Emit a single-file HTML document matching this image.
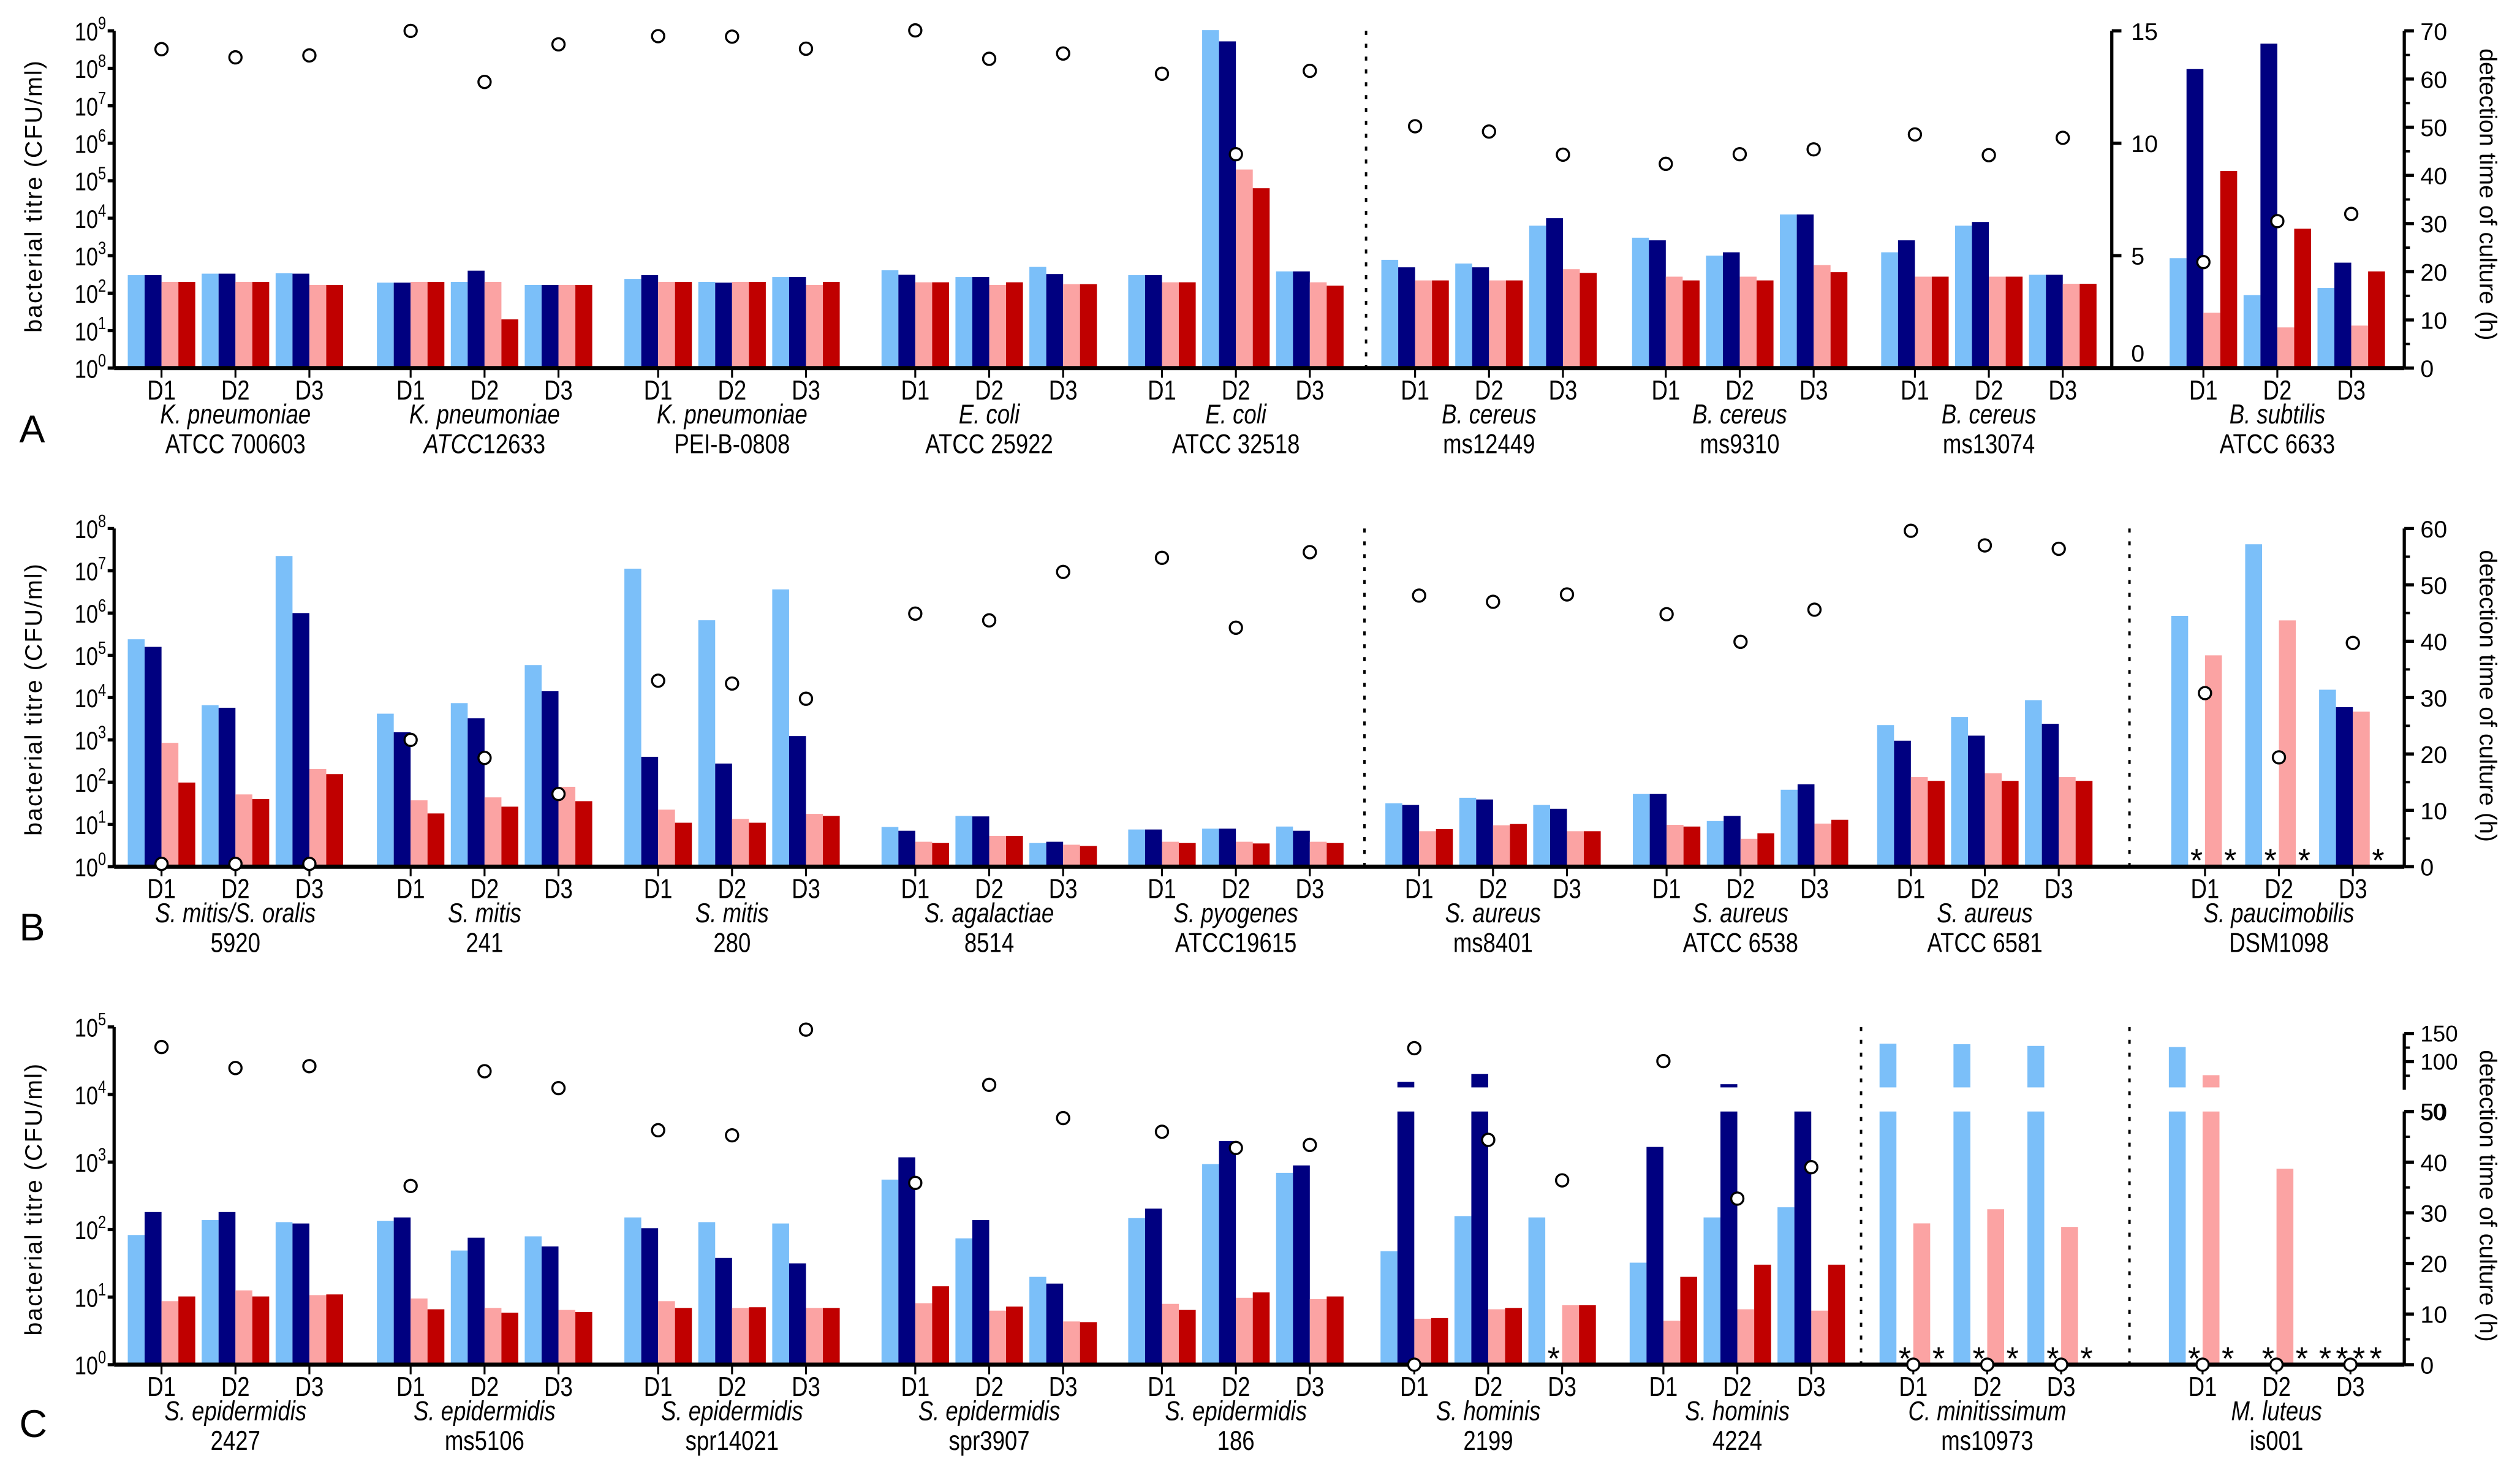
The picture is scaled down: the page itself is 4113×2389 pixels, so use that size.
<!DOCTYPE html>
<html><head><meta charset="utf-8"><title>Bacterial titre and detection time</title>
<style>
html,body{margin:0;padding:0;background:#fff;}
svg{display:block;}
text{font-family:"Liberation Sans",Arial,sans-serif;fill:#000;}
</style></head>
<body>
<svg id="chart" xmlns="http://www.w3.org/2000/svg" width="4113" height="2389" viewBox="0 0 1568 910.8" preserveAspectRatio="none"></svg>
<script>
// ---------- DATA (log10 CFU/ml for titres, hours for detection time) ----------
// Panel A
const A_species = ["K. pneumoniae","K. pneumoniae","K. pneumoniae","E. coli","E. coli","B. cereus","B. cereus","B. cereus"];
const A_strain = ["ATCC 700603","ATCC12633","PEI-B-0808","ATCC 25922","ATCC 32518","ms12449","ms9310","ms13074"];
const A_lb = [2.48,2.52,2.53, 2.28,2.3,2.22, 2.38,2.3,2.43, 2.61,2.43,2.7, 2.48,9.02,2.58, 2.89,2.79,3.8, 3.48,3.0,4.1, 3.09,3.8,2.49];
const A_nv = [2.48,2.52,2.52, 2.28,2.6,2.22, 2.48,2.28,2.43, 2.49,2.43,2.51, 2.48,8.72,2.58, 2.69,2.69,4.0, 3.41,3.09,4.1, 3.41,3.9,2.49];
const A_pk = [2.3,2.3,2.22, 2.3,2.3,2.22, 2.3,2.3,2.22, 2.29,2.22,2.24, 2.29,5.3,2.29, 2.34,2.34,2.64, 2.44,2.44,2.75, 2.44,2.44,2.25];
const A_rd = [2.3,2.3,2.22, 2.3,1.3,2.22, 2.3,2.3,2.3, 2.29,2.29,2.24, 2.29,4.8,2.2, 2.34,2.34,2.54, 2.34,2.34,2.56, 2.44,2.44,2.25];
const A_time = [66.2,64.5,64.9, 70,59.4,67.2, 68.9,68.8,66.3, 70.1,64.2,65.3, 61.1,44.4,61.7, 50.2,49.1,44.3, 42.4,44.4,45.4, 48.5,44.2,47.8];
// B. subtilis (linear 0-15 scale)
const S_lb = [4.89,3.25,3.56];
const S_nv = [13.3,14.43,4.69];
const S_pk = [2.46,1.81,1.89];
const S_rd = [8.77,6.2,4.3];
const S_time = [22,30.5,32];
const A_ticksLeft = ["0","1","2","3","4","5","6","7","8","9"];
const A_ticksRight = [0,10,20,30,40,50,60,70];
const A_ticksInner = [0,5,10,15];

// Panel B
const B_species = ["S. mitis/S. oralis","S. mitis","S. mitis","S. agalactiae","S. pyogenes","S. aureus","S. aureus","S. aureus"];
const B_strain = ["5920","241","280","8514","ATCC19615","ms8401","ATCC 6538","ATCC 6581"];
const B_lb = [5.38,3.82,7.35, 3.62,3.87,4.77, 7.05,5.83,6.56, .94,1.2,.56, .88,.9,.95, 1.5,1.63,1.46, 1.72,1.08,1.82, 3.35,3.54,3.94];
const B_nv = [5.2,3.76,6.0, 3.18,3.51,4.15, 2.6,2.44,3.09, .85,1.19,.59, .88,.9,.85, 1.46,1.59,1.37, 1.72,1.2,1.95, 2.98,3.1,3.38];
const B_pk = [2.93,1.71,2.31, 1.57,1.64,1.89, 1.35,1.13,1.25, .59,.73,.52, .59,.59,.59, .84,.98,.84, .99,.66,1.02, 2.12,2.21,2.12];
const B_rd = [1.99,1.6,2.19, 1.26,1.42,1.55, 1.04,1.04,1.2, .56,.73,.49, .56,.55,.56, .89,1.01,.84, .95,.79,1.11, 2.03,2.03,2.03];
const B_time = [0.5,0.5,0.5, 22.5,19.3,12.9, 33,32.5,29.8, 44.9,43.7,52.3, 54.8,42.4,55.8, 48.1,47,48.3, 44.8,39.9,45.6, 59.6,57,56.4];
// S. paucimobilis (hours scale), null = negative (*)
const P_lb = [44.5,57.2,31.4];
const P_nv = [null,null,28.3];
const P_pk = [37.5,43.7,27.5];
const P_rd = [null,null,null];
const P_time = [30.8,19.4,39.7];
const B_ticksLeft = ["0","1","2","3","4","5","6","7","8"];
const B_ticksRight = [0,10,20,30,40,50,60];

// Panel C
const C_species = ["S. epidermidis","S. epidermidis","S. epidermidis","S. epidermidis","S. epidermidis","S. hominis","S. hominis"];
const C_strain = ["2427","ms5106","spr14021","spr3907","186","2199","4224"];
const C_lb = [1.92,2.14,2.11, 2.13,1.69,1.9, 2.18,2.11,2.09, 2.74,1.87,1.3, 2.17,2.97,2.84, 1.68,2.2,2.18, 1.51,2.18,2.33];
const C_nv = [2.26,2.26,2.09, 2.18,1.88,1.75, 2.02,1.58,1.5, 3.07,2.14,1.2, 2.31,3.31,2.95];
const H_nv = [64,78,null, 43,60,52];   // S. hominis dark bars, hours (broken axis)
const C_pk = [.94,1.1,1.03, .98,.84,.81, .94,.84,.84, .91,.8,.64, .9,.99,.97, .68,.82,.88, .65,.82,.8];
const C_rd = [1.01,1.01,1.04, .82,.77,.78, .84,.85,.84, 1.16,.86,.63, .81,1.07,1.01, .69,.84,.88, 1.3,1.48,1.48];
const C_time = [126,88.7,92, 35.3,83,53, 46.3,45.3,157, 35.9,58.8,48.7, 46,42.8,43.4, 124,44.4,36.4, 101,32.8,39];
const C_time2 = [null,null,null, null,null,null, null,null,null, null,null,null, null,null,null, 0,null,null, null,null,null];
// C. minitissimum / M. luteus (hours, broken axis); null = *, 0 = nothing
const M_lb = [132,131,128];
const M_nv = [null,null,null];
const M_pk = [27.9,30.7,27.2];
const M_rd = [null,null,null];
const M_time = [0,0,0];
const L_lb = [126,0,null];
const L_nv = [null,null,null];
const L_pk = [76,38.7,null];
const L_rd = [null,null,null];
const L_time = [0,0,0];
const C_ticksLeft = ["0","1","2","3","4","5"];
const C_ticksLow = [0,10,20,30,40,50];
const C_ticksUp = [50,100,150];

// ---------- LAYOUT ----------
const NS = "http://www.w3.org/2000/svg";
const svg = document.getElementById("chart");
const COLORS = ["#7bbff9","#000080","#fba3a3","#c00000"];
const SERIES = ["light-blue","navy","pink","red"];
const groupX = [100.5,255.5,409.5,569.5,723,880.5,1036.5,1191.5];
const DAY = 46, BW = 10.5, XL = 71, XR = 1496, SQ = 0.82;
function el(tag, a, p){const e=document.createElementNS(NS,tag);for(const k in a)e.setAttribute(k,a[k]);(p||svg).appendChild(e);return e;}
function tx(s, a, p){const e=el("text",a,p);e.textContent=s;return e;}
function sq(x,y){ return "translate("+x+","+y+") scale("+SQ+",1)"; }

function line(x1,y1,x2,y2,w,name,dash){
  const e=el("line",{x1:x1,y1:y1,x2:x2,y2:y2,stroke:"#000","stroke-width":w});
  if(dash) e.setAttribute("stroke-dasharray",dash);
  
  
  return e;
}
function bar(x,yTop,yBot,i,name){
  const e=el("rect",{x:x,y:yTop,width:BW,height:Math.max(0,yBot-yTop),fill:COLORS[i]});
  
  
  return e;
}
function star(x,y){
  const e=tx("*",{x:x,y:y+6,"font-size":20,"text-anchor":"middle"});
  
  
}
function circ(x,y){
  const e=el("circle",{cx:x,cy:y,r:3.8,fill:"#fff",stroke:"#000","stroke-width":1.3});
  
  
}
function dayTicks(tx0, base){
  for(let d=0; d<3; d++){
    const x=tx0+d*DAY;
    line(x,base,x,base+6,1.2,"x-tick");
    const t=tx("D"+(d+1),{x:0,y:0,"font-size":17,"text-anchor":"middle",transform:sq(x,base+19.5)});
    
    
  }
}
function groupLabel(cx, base, sp, st, italicPrefix){
  const a=tx(sp,{x:0,y:0,"font-size":17,"font-style":"italic","text-anchor":"middle",transform:sq(cx,base+34.5)});
  
  
  const b=el("text",{x:0,y:0,"font-size":17,"text-anchor":"middle",transform:sq(cx,base+53)});
  if(italicPrefix){
    const s1=el("tspan",{"font-style":"italic"},b); s1.textContent=italicPrefix;
    const s2=el("tspan",{},b); s2.textContent=st.slice(italicPrefix.length);
  } else b.textContent=st;
  
  
}
function leftAxis(top, base, ticks, dec){
  line(XL,top,XL,base,2,"y-axis-left");
  ticks.forEach((t,k)=>{
    const y=base-k*dec;
    line(XL-4,y,XL,y,2,"y-tick-left");
    const e=el("text",{x:0,y:0,"font-size":16,"text-anchor":"end",transform:sq(XL-5,y+6)});
    const a=el("tspan",{},e); a.textContent="10";
    const b=el("tspan",{dy:-7,"font-size":11},e); b.textContent=t;
    
    
  });
}
function leftTitle(cy){
  const e=tx("bacterial titre (CFU/ml)",{x:0,y:0,"font-size":15,"letter-spacing":0.8,"text-anchor":"middle",transform:"translate(26,"+cy+") rotate(-90)"});
  
  
}
function rightTitle(cy){
  const e=tx("detection time of culture (h)",{x:0,y:0,"font-size":15,"text-anchor":"middle",transform:"translate(1543,"+cy+") rotate(90)"});
  
  
}
function rightAxis(base, top, ticks, yFn, minor){
  line(XR,top,XR,base,2,"y-axis-right");
  ticks.forEach(v=>{
    const y=yFn(v);
    line(XR,y,XR+6,y,2,"y-tick-right");
    const e=tx(String(v),{x:XR+10,y:y+5.5,"font-size":15});
    
    
  });
  minor.forEach(v=>{ line(XR,yFn(v),XR+3.5,yFn(v),1.5,"y-minor-tick-right"); });
}
function panelLetter(s,y){
  const e=tx(s,{x:12,y:y,"font-size":24});
  
  
}
function drawGroupBars(tick, vals, yFn, base){
  for(let i=0;i<4;i++){
    const v=vals[i], x=tick-21+i*BW;
    if(v===null){ star(x+BW/2, base-3); continue; }
    if(v===0) continue;
    bar(x, yFn(v), base, i, "bar-"+SERIES[i]);
  }
}

// ================= PANEL A =================
(function(){
  const base=229, top=19.2, dec=(base-top)/9;
  const yLog=v=>base-v*dec, yH=h=>base-h*(base-top)/70, yLin=v=>base-v*(base-top)/15;
  leftAxis(top,base,A_ticksLeft,dec); leftTitle(122);
  for(let g=0; g<8; g++){
    for(let d=0; d<3; d++){
      const k=g*3+d, t=groupX[g]+d*DAY;
      drawGroupBars(t,[A_lb[k],A_nv[k],A_pk[k],A_rd[k]],yLog,base);
    }
  }
  const sx=1371;
  for(let d=0; d<3; d++) drawGroupBars(sx+d*DAY,[S_lb[d],S_nv[d],S_pk[d],S_rd[d]],yLin,base);
  line(850,top,850,base,1.5,"section-divider","2.5,5.5");
  line(XL,base,XR,base,2.6,"x-axis");
  for(let g=0; g<8; g++){ dayTicks(groupX[g],base); groupLabel(groupX[g]+DAY,base,A_species[g],A_strain[g],g===1?"ATCC":null); }
  dayTicks(sx,base); groupLabel(sx+DAY,base,"B. subtilis","ATCC 6633");
  line(1314,top,1314,base,2,"y-axis-inner");
  A_ticksInner.forEach(v=>{
    const y=yLin(v);
    line(1314,y,1320,y,2,"y-tick-inner");
    const e=tx(String(v),{x:1326,y:(v===0?y-4:y+5.5),"font-size":15});
    
    
  });
  rightAxis(base,top,A_ticksRight,yH,[5,15,25,35,45,55,65]); rightTitle(121);
  for(let g=0; g<8; g++) for(let d=0; d<3; d++) circ(groupX[g]+d*DAY, yH(A_time[g*3+d]));
  for(let d=0; d<3; d++) circ(sx+d*DAY, yH(S_time[d]));
  panelLetter("A",275);
})();

// ================= PANEL B =================
(function(){
  const base=539.2, top=328.8, dec=(base-top)/8;
  const yLog=v=>base-v*dec, yH=h=>base-h*(base-top)/60;
  leftAxis(top,base,B_ticksLeft,dec); leftTitle(435);
  const bx=groupX.slice(); bx[5]=883; bx[6]=1037; bx[7]=1189;
  for(let g=0; g<8; g++) for(let d=0; d<3; d++){
    const k=g*3+d; drawGroupBars(bx[g]+d*DAY,[B_lb[k],B_nv[k],B_pk[k],B_rd[k]],yLog,base);
  }
  const px=1372;
  for(let d=0; d<3; d++) drawGroupBars(px+d*DAY,[P_lb[d],P_nv[d],P_pk[d],P_rd[d]],yH,base);
  line(849,top,849,base,1.5,"section-divider","2.5,5.5");
  line(1325,top,1325,base,1.5,"section-divider","2.5,5.5");
  line(XL,base,XR,base,2.6,"x-axis");
  for(let g=0; g<8; g++){ dayTicks(bx[g],base); groupLabel(bx[g]+DAY,base,B_species[g],B_strain[g]); }
  dayTicks(px,base); groupLabel(px+DAY,base,"S. paucimobilis","DSM1098");
  rightAxis(base,top,B_ticksRight,yH,[5,15,25,35,45,55]); rightTitle(433);
  for(let g=0; g<8; g++) for(let d=0; d<3; d++) circ(bx[g]+d*DAY, yH(B_time[g*3+d]));
  for(let d=0; d<3; d++) circ(px+d*DAY, yH(P_time[d]));
  panelLetter("B",585);
})();

// ================= PANEL C =================
(function(){
  const base=849, top=638.9, dec=(base-top)/5;
  const yLog=v=>base-v*dec;
  const LOWTOP=691.5, UP50=678, UPBOT=676.5, upScale=(678-643)/100;
  const yH=h=> h<=50 ? base-h*(base-LOWTOP)/50 : UP50-(h-50)*upScale;
  leftAxis(top,base,C_ticksLeft,dec); leftTitle(746);
  const cx=groupX.slice(); cx[5]=880; cx[6]=1035; cx[7]=1190.5;
  function hourBar(x,v,i,name){
    if(v<=50){ bar(x,yH(v),base,i,name); return; }
    bar(x,LOWTOP,base,i,name);
    bar(x,yH(v),UPBOT,i,name+"-upper");
  }
  function hourGroup(t, vals){
    for(let i=0;i<4;i++){
      const v=vals[i], x=t-21+i*BW;
      if(v===null){ star(x+BW/2, base-3); continue; }
      if(v===0) continue;
      hourBar(x,v,i,"bar-"+SERIES[i]);
    }
  }
  for(let g=0; g<7; g++) for(let d=0; d<3; d++){
    const k=g*3+d, t=cx[g]+d*DAY;
    if(g<5) drawGroupBars(t,[C_lb[k],C_nv[k],C_pk[k],C_rd[k]],yLog,base);
    else {
      drawGroupBars(t,[C_lb[k],0,C_pk[k],C_rd[k]],yLog,base);
      const hv=H_nv[(g-5)*3+d], x=t-21+BW;
      if(hv===null) star(x+BW/2, base-3); else hourBar(x,hv,1,"bar-navy");
    }
  }
  const mx=cx[7], lx=1370.5;
  for(let d=0; d<3; d++){
    hourGroup(mx+d*DAY,[M_lb[d],M_nv[d],M_pk[d],M_rd[d]]);
    hourGroup(lx+d*DAY,[L_lb[d],L_nv[d],L_pk[d],L_rd[d]]);
  }
  line(1158,top,1158,base,1.5,"section-divider","2.5,5.5");
  line(1325,top,1325,base,1.5,"section-divider","2.5,5.5");
  line(XL,base,XR,base,2.6,"x-axis");
  for(let g=0; g<7; g++){ dayTicks(cx[g],base); groupLabel(cx[g]+DAY,base,C_species[g],C_strain[g]); }
  dayTicks(mx,base); groupLabel(mx+DAY,base,"C. minitissimum","ms10973");
  dayTicks(lx,base); groupLabel(lx+DAY,base,"M. luteus","is001");
  line(XR,LOWTOP,XR,base,2,"y-axis-right-lower");
  line(XR,643,XR,UP50,2,"y-axis-right-upper");
  C_ticksLow.forEach(v=>{
    const y=yH(v); line(XR,y,XR+6,y,2,"y-tick-right");
    const e=tx(String(v),{x:XR+10,y:y+5.5,"font-size":15});
    
    
  });
  [5,15,25,35,45].forEach(v=>line(XR,yH(v),XR+3.5,yH(v),1.5,"y-minor-tick-right"));
  C_ticksUp.forEach(v=>{
    const y=yH(v); line(XR,y,XR+6,y,2,"y-tick-right");
    const e=tx(String(v),{x:XR+10,y:y+5,"font-size":14});
    
    
  });
  [75,125].forEach(v=>line(XR,yH(v),XR+3.5,yH(v),1.5,"y-minor-tick-right"));
  rightTitle(744);
  for(let g=0; g<7; g++) for(let d=0; d<3; d++){
    const k=g*3+d, t=cx[g]+d*DAY;
    circ(t, yH(C_time[k]));
    if(C_time2[k]!==null) circ(t, yH(C_time2[k]));
  }
  for(let d=0; d<3; d++){ circ(mx+d*DAY, yH(M_time[d])); circ(lx+d*DAY, yH(L_time[d])); }
  panelLetter("C",894);
})();
</script>
</body></html>
